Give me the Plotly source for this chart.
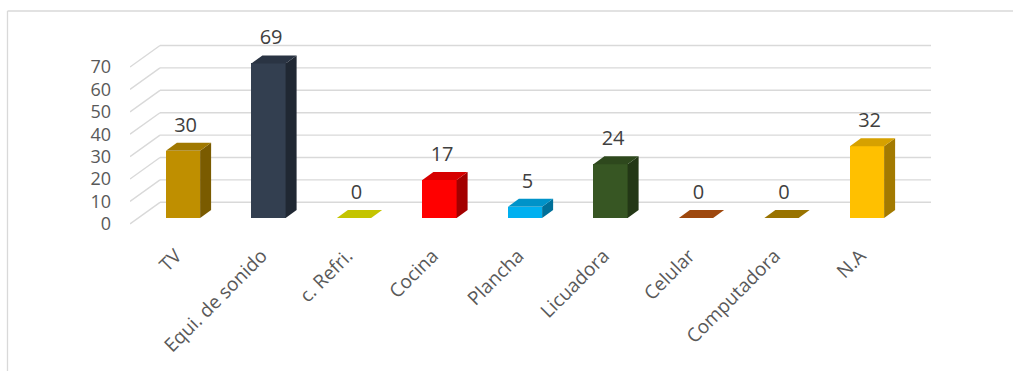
import plotly.graph_objects as go

# Appliance counts
categories = ["TV", "Equi. de sonido", "c. Refri.", "Cocina", "Plancha",
              "Licuadora", "Celular", "Computadora", "N.A"]
values = [30, 69, 0, 17, 5, 24, 0, 0, 32]
front_colors = ["#BF8F00", "#333F50", "#C4C400", "#FF0000", "#00B0F0",
                "#375623", "#9E480E", "#997300", "#FFC000"]
y_ticks = [0, 10, 20, 30, 40, 50, 60, 70]

# Page / plot-area geometry (pixels)
W, H = 1013, 371
L, R, T, B = 130, 931, 30, 232
PX_PER_CAT = 85.5
PX_PER_UNIT = 2.24
ZERO_PX_X = 183      # pixel x of first category
ZERO_PX_Y = 218      # pixel y of value 0 on bar faces

x0 = -(ZERO_PX_X - L) / PX_PER_CAT
x1 = x0 + (R - L) / PX_PER_CAT
y0 = -(B - ZERO_PX_Y) / PX_PER_UNIT
y1 = y0 + (B - T) / PX_PER_UNIT

# pseudo-3D offsets, in data units
BAR_W = 0.40
DEPTH_X = 11 / PX_PER_CAT
DEPTH_Y = 8 / PX_PER_UNIT
WALL_BACK_Y = 7.0                 # back wall above bar plane
WALL_FRONT_Y = -2.6               # front plane below bar plane
WALL_BACK_X = x0 + 30 / PX_PER_CAT
LABEL_OFF = 24 / PX_PER_UNIT
CAT_LABEL_SHIFT = -0.08           # category labels sit on the front plane


def shade(hex_color, k):
    r, g, b = (int(hex_color[i:i + 2], 16) for i in (1, 3, 5))
    return "#%02X%02X%02X" % (int(r * k), int(g * k), int(b * k))


fig = go.Figure()

# front faces
fig.add_trace(go.Bar(
    x=list(range(len(categories))), y=values, width=BAR_W,
    marker=dict(color=front_colors, line=dict(width=0)),
    hoverinfo="skip", showlegend=False,
))

# side and top faces
for i, (v, c) in enumerate(zip(values, front_colors)):
    xl, xr = i - BAR_W / 2, i + BAR_W / 2
    if v > 0:
        fig.add_trace(go.Scatter(
            x=[xr, xr + DEPTH_X, xr + DEPTH_X, xr, xr],
            y=[0, DEPTH_Y, v + DEPTH_Y, v, 0],
            mode="lines", fill="toself", fillcolor=shade(c, 0.64),
            line=dict(width=0), hoverinfo="skip", showlegend=False,
        ))
    top_col = shade(c, 0.84) if v > 0 else c
    fig.add_trace(go.Scatter(
        x=[xl, xr, xr + DEPTH_X, xl + DEPTH_X, xl],
        y=[v, v, v + DEPTH_Y, v + DEPTH_Y, v],
        mode="lines", fill="toself", fillcolor=top_col,
        line=dict(width=0), hoverinfo="skip", showlegend=False,
    ))

# value labels
fig.add_trace(go.Scatter(
    x=[i + 0.03 for i in range(len(values))],
    y=[v + LABEL_OFF for v in values],
    mode="text", text=[str(v) for v in values],
    textposition="middle center",
    textfont=dict(family="Open Sans", size=20, color="#404040"),
    hoverinfo="skip", showlegend=False,
))

# back-wall gridlines and side-wall diagonals
shapes = []
grid_line = dict(color="#D9D9D9", width=1.4)
for t in y_ticks:
    shapes.append(dict(type="line", xref="x", yref="y", layer="below",
                       x0=WALL_BACK_X, x1=x1,
                       y0=t + WALL_BACK_Y, y1=t + WALL_BACK_Y, line=grid_line))
    shapes.append(dict(type="line", xref="x", yref="y", layer="below",
                       x0=x0, x1=WALL_BACK_X,
                       y0=t + WALL_FRONT_Y, y1=t + WALL_BACK_Y, line=grid_line))

# chart frame
def px_to_paper_x(px):
    return (px - L) / (R - L)


def px_to_paper_y(py):
    return (B - py) / (B - T)


frame = dict(color="#D9D9D9", width=1.3)
shapes.append(dict(type="line", xref="paper", yref="paper",
                   x0=px_to_paper_x(7.5), x1=px_to_paper_x(7.5),
                   y0=px_to_paper_y(11), y1=px_to_paper_y(H + 5), line=frame))
shapes.append(dict(type="line", xref="paper", yref="paper",
                   x0=px_to_paper_x(7.5), x1=px_to_paper_x(W + 5),
                   y0=px_to_paper_y(11), y1=px_to_paper_y(11), line=frame))

fig.update_layout(
    width=W, height=H,
    margin=dict(l=L, r=W - R, t=T, b=H - B, pad=0),
    paper_bgcolor="white", plot_bgcolor="rgba(0,0,0,0)",
    shapes=shapes, bargap=0,
    font=dict(family="Open Sans", color="#595959"),
    xaxis=dict(
        range=[x0, x1], tickmode="array",
        tickvals=[i + CAT_LABEL_SHIFT for i in range(len(categories))],
        ticktext=categories,
        tickangle=-45, tickfont=dict(size=19, color="#595959"),
        ticklabelstandoff=8,
        showgrid=False, zeroline=False, showline=False, ticks="",
        fixedrange=True,
    ),
    yaxis=dict(
        range=[y0, y1], tickmode="array",
        tickvals=[t + WALL_FRONT_Y for t in y_ticks],
        ticktext=[str(t) for t in y_ticks],
        tickfont=dict(size=18, color="#595959"),
        ticklabelstandoff=18,
        showgrid=False, zeroline=False, showline=False, ticks="",
        fixedrange=True,
    ),
)

fig.write_html("out.html")
